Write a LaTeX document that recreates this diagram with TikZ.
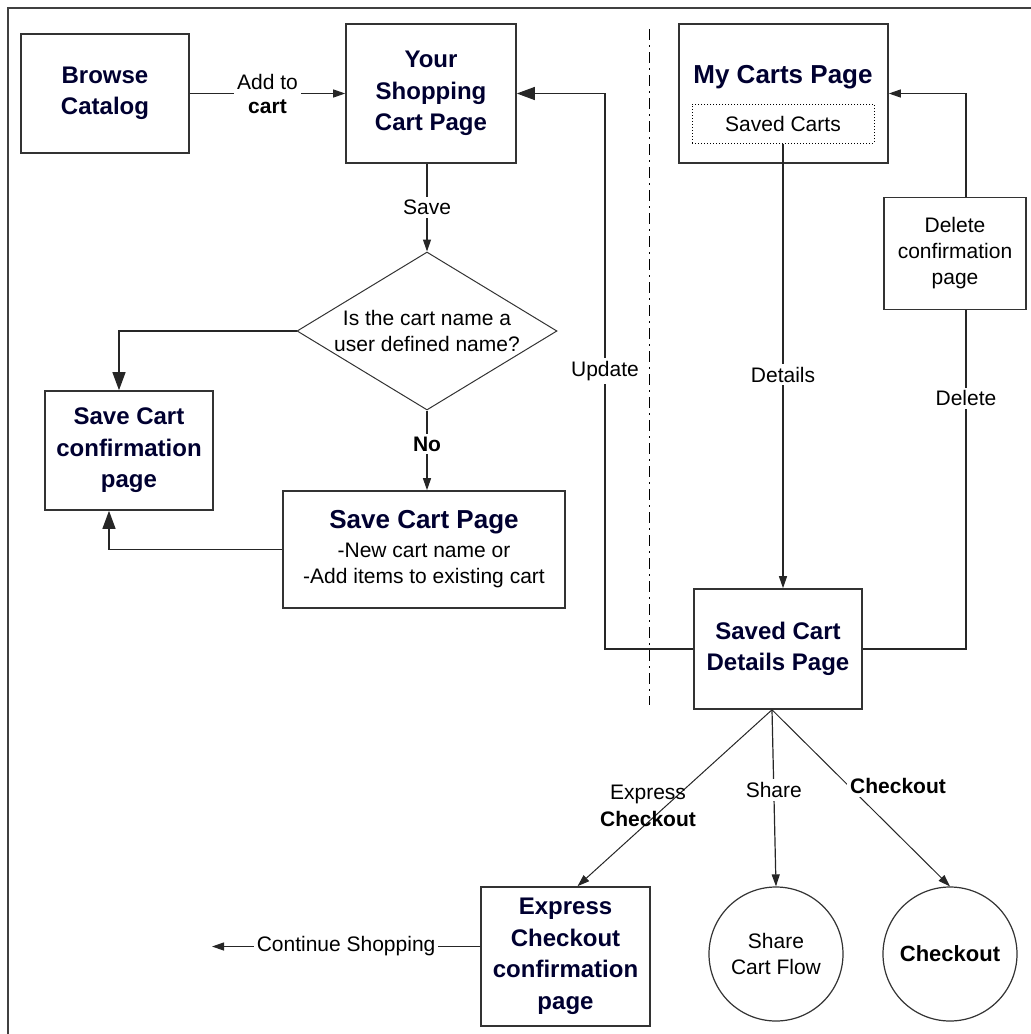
\documentclass[tikz,border=0pt]{standalone}
\usepackage{fontspec}
\setmainfont{Liberation Sans}
\usetikzlibrary{positioning,shapes.geometric,arrows.meta}

\definecolor{navy}{RGB}{0,0,48}
\newcommand{\cartfont}{\fontsize{24}{31.5}\selectfont\bfseries}
\newcommand{\cartfontbig}{\fontsize{26}{31.5}\selectfont\bfseries}
\newcommand{\notefont}{\fontsize{21}{26}\selectfont}

\begin{document}
\begin{tikzpicture}[x=1pt, y=-1pt,
    page/.style={draw=black!80, line width=1.6pt, inner sep=0pt, align=center, font=\cartfont, text=navy},
    note/.style={font=\notefont, align=center, inner sep=3pt},
    flow/.style={line width=1.2pt, draw=black!85},
    arr/.style={-{Triangle[length=12pt,width=8pt]}},
    bigarr/.style={-{Triangle[length=18pt,width=13pt]}}]
    \useasboundingbox (0,0) rectangle (1031,1034);

    % Frame and divider
    \draw[line width=1.5pt, black!75] (8,1040) |- (1040,8);
    \draw[line width=1pt, dash pattern=on 11pt off 5pt on 2pt off 5pt] (649,29) -- (649,705);

    % Pages
    \node[page, minimum width=168pt, minimum height=119pt] (browse) at (105,93.5) {Browse\\Catalog};
    \node[page, minimum width=170pt, minimum height=139pt] (cart) at (431,93.5) {Your\\Shopping\\Cart Page};
    \node[page, minimum width=209pt, minimum height=139pt] (mycarts) at (783.5,93.5) {};
    \node[font=\cartfontbig, text=navy] (mycartstitle) at (783,77) {My Carts Page};
    \node[draw, dotted, line width=1pt, minimum width=182pt, minimum height=39pt, font=\notefont] (savedcarts) at (783,123.5) {Saved Carts};
    \node[page, text=black, font=\notefont, minimum width=142pt, minimum height=112pt] (delconf) at (955,253.5) {Delete\\confirmation\\page};
    \node[draw=black!80, line width=1pt, shape=diamond, aspect=1.65, inner sep=0pt, minimum width=260pt, minimum height=158pt, font=\notefont, align=center] (ask) at (427,331) {Is the cart name a\\user defined name?};
    \node[page, minimum width=168pt, minimum height=119pt] (saveconf) at (129,450.5) {Save Cart\\confirmation\\page};
    \node[page, minimum width=282pt, minimum height=117pt, font=\notefont, text=black] (savepage) at (424,549.5) {{\cartfontbig\color{navy}Save Cart Page}\\[3pt]-New cart name or\\-Add items to existing cart};
    \node[page, minimum width=168pt, minimum height=120pt] (details) at (778,649) {Saved Cart\\Details Page};
    \node[page, minimum width=169pt, minimum height=139pt] (express) at (565.5,956.5) {Express\\Checkout\\confirmation\\page};
    \node[draw=black!80, line width=1.2pt, circle, minimum size=134pt, inner sep=0pt, font=\notefont, align=center] (share) at (776,954) {Share\\Cart Flow};
    \node[draw=black!80, line width=1.2pt, circle, minimum size=134pt, inner sep=0pt, font=\fontsize{22}{26}\selectfont\bfseries] (checkout) at (950,954) {Checkout};

    % Save flow
    \draw[flow, arr] (browse) -- node[note, fill=white] {Add to\\[-2pt]\textbf{cart}} (cart);
    \draw[flow, arr] (cart.south -| ask.north) -- node[note, fill=white] {Save} (ask.north);
    \draw[flow, bigarr] (ask.west) -| ([xshift=-10pt]saveconf.north);
    \draw[flow, arr] (ask.south) -- node[note, fill=white, font=\notefont\bfseries, pos=0.42] {No} (ask.south |- savepage.north);
    \draw[flow, bigarr] (savepage.west) -| ([xshift=-20pt]saveconf.south);

    % My carts flow
    \coordinate (updturn) at (605,93.5);
    \draw[flow, bigarr] (details.west) -| node[note, fill=white, pos=0.75] {Update} (updturn) -- (cart.east);
    \draw[flow, arr] (savedcarts.south) -- node[note, fill=white, pos=0.52] {Details} (savedcarts.south |- details.north);
    \draw[flow] (details.east) -| node[note, fill=white, pos=0.87] {Delete} ([xshift=11pt]delconf.south);
    \draw[flow, arr] ([xshift=11pt]delconf.north) |- (mycarts.east);

    % Checkout choices
    \coordinate (fork) at ([xshift=-6pt]details.south);
    \draw[flow, arr, line width=1pt] (fork) -- ([xshift=12pt]express.north);
    \node[note] (expresslbl) at (648,806) {Express\\[1pt]\textbf{Checkout}};
    \draw[flow, arr] (fork) -- node[note, fill=white, pos=0.455] {Share} (share.north);
    \draw[flow, arr, line width=1pt] (fork) -- (checkout.north);
    \node[note, fill=white, font=\notefont\bfseries] (checkoutlbl) at (898,786) {Checkout};
    \coordinate (shopping) at (212,946.5);
    \draw[flow, arr] ([yshift=10pt]express.west) -- node[note, fill=white] {Continue Shopping} (shopping);
\end{tikzpicture}
\end{document}
